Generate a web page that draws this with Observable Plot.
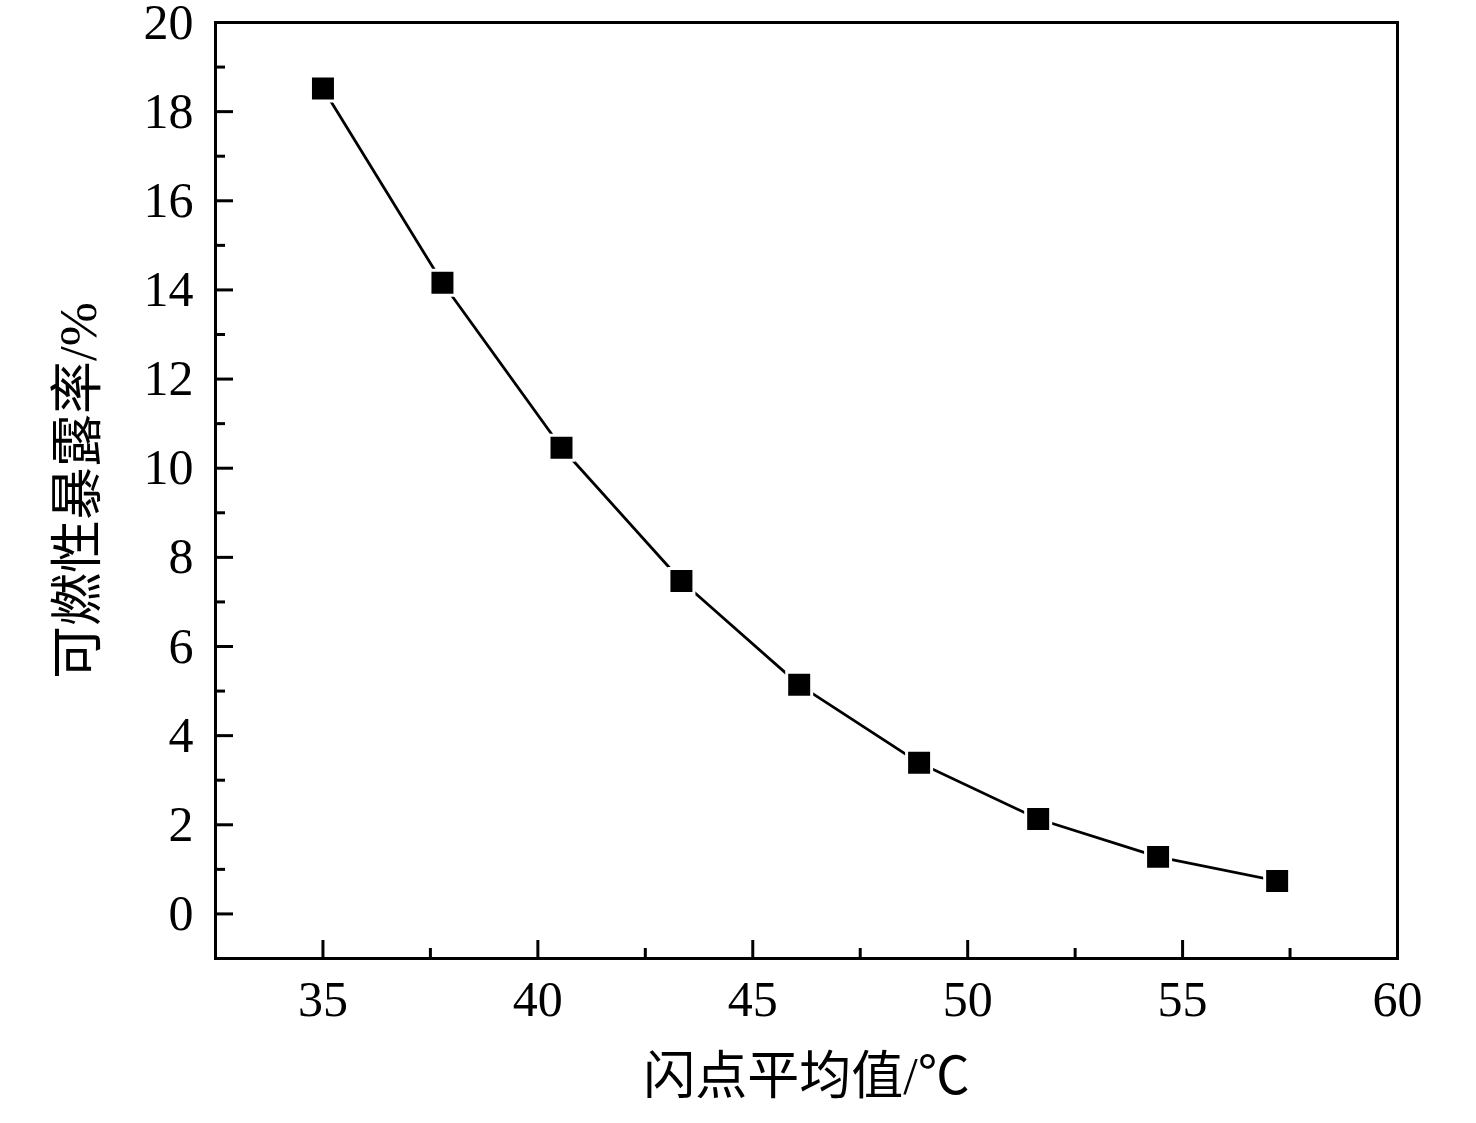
<!DOCTYPE html>
<html>
<head>
<meta charset="utf-8">
<script src="https://cdn.jsdelivr.net/npm/d3@7"></script>
<script src="https://cdn.jsdelivr.net/npm/@observablehq/plot@0.6"></script>
<style>
  html, body { margin: 0; padding: 0; background: #fff; }
  #chart svg, #chart svg text { font-family: "Liberation Serif", "Times New Roman", "Noto Sans CJK SC", serif !important; }
</style>
</head>
<body>
<div id="chart"></div>
<script>
const flashPoint = [35, 37.78, 40.55, 43.34, 46.08, 48.87, 51.64, 54.43, 57.2];
const exposure = [18.52, 14.16, 10.46, 7.47, 5.14, 3.39, 2.13, 1.28, 0.74];
const xMajor = [35, 40, 45, 50, 55, 60];
const xMinor = [37.5, 42.5, 47.5, 52.5, 57.5];
const yMajor = [0, 2, 4, 6, 8, 10, 12, 14, 16, 18, 20];
const yMinor = [1, 3, 5, 7, 9, 11, 13, 15, 17, 19];
const xTitle = "闪点平均值/℃";
const yTitle = "可燃性暴露率/%";

const data = flashPoint.map((x, i) => ({x, y: exposure[i]}));

const W = 1476, H = 1123;
const mL = 215, mR = 79, mT = 22, mB = 165;
const plotW = W - mL - mR, plotH = H - mT - mB;

const chart = Plot.plot({
  width: W,
  height: H,
  marginLeft: mL,
  marginRight: mR,
  marginTop: mT,
  marginBottom: mB,
  style: {fontSize: "48px", background: "#fff", color: "#000", overflow: "visible"},
  x: {domain: [32.5, 60], label: null},
  y: {domain: [-1, 20], label: null},
  marks: [
    Plot.line(data, {x: "x", y: "y", stroke: "#000", strokeWidth: 2.8}),
    Plot.dot(data, {x: "x", y: "y", symbol: "square", r: 14.1, fill: "#000", stroke: "#fff", strokeWidth: 3}),
    Plot.tickX(xMajor, {x: d => d, insetTop: plotH - 18, stroke: "#000", strokeWidth: 3}),
    Plot.tickX(xMinor, {x: d => d, insetTop: plotH - 10, stroke: "#000", strokeWidth: 3}),
    Plot.tickY(yMajor, {y: d => d, insetRight: plotW - 18, stroke: "#000", strokeWidth: 3}),
    Plot.tickY(yMinor, {y: d => d, insetRight: plotW - 10, stroke: "#000", strokeWidth: 3}),
    Plot.axisX({ticks: xMajor, tickSize: 0, tickPadding: 22, fontSize: 50, label: null, fill: "#000"}),
    Plot.axisY({ticks: yMajor, tickSize: 0, tickPadding: 22, fontSize: 50, label: null, fill: "#000"}),
    Plot.frame({stroke: "#000", strokeWidth: 3}),
    Plot.text([xTitle], {frameAnchor: "bottom", dy: 135, fontSize: 52, fill: "#000"}),
    Plot.text([yTitle], {frameAnchor: "left", dx: -136, rotate: -90, textAnchor: "middle", fontSize: 53, fill: "#000"})
  ]
});
document.getElementById("chart").appendChild(chart);
</script>
</body>
</html>
